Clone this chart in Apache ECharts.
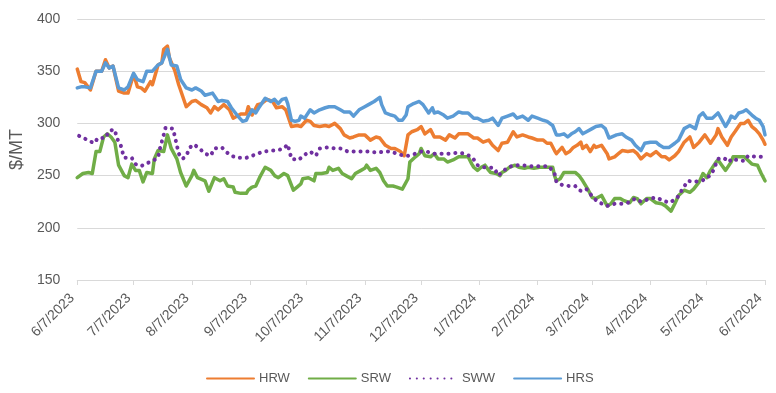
<!DOCTYPE html>
<html>
<head>
<meta charset="utf-8">
<script src="https://cdn.jsdelivr.net/npm/echarts@6/dist/echarts.min.js"></script>
<style>html,body{margin:0;padding:0;background:#fff}#c{width:776px;height:393px}</style>
</head>
<body>
<div id="c"></div>
<script>
// Dates are day offsets from 6/7/2023
const startLabel = '6/7/2023';
const tickLabels = ['6/7/2023','7/7/2023','8/7/2023','9/7/2023','10/7/2023','11/7/2023','12/7/2023','1/7/2024','2/7/2024','3/7/2024','4/7/2024','5/7/2024','6/7/2024'];
const seriesNames = ['HRW','SRW','SWW','HRS'];

const hrwDays = [0,2,4,7,10,13,15,17,19,22,25,27,30,32,34,36,39,40,43,45,46,48,49,52,54,58,61,63,66,69,71,73,75,78,81,83,87,90,91,93,96,98,101,104,106,109,111,114,117,119,122,124,126,129,132,134,137,140,142,145,147,150,153,154,156,159,161,164,167,169,172,174,176,178,181,183,184,185,188,190,193,196,198,201,203,205,208,211,213,216,219,221,224,226,229,232,234,237,240,242,245,248,250,252,254,255,258,260,262,264,266,268,269,271,273,275,276,279,282,283,286,288,290,293,296,298,300,303,305,308,311,313,315,318,320,323,326,328,331,334,337,340,341,343,346,348,350,353,355,357,359,361,363,365,366];
const hrwValues = [352,340,339,332,350,350,361,353,355,331,329,329,347,335,334,331,340,337,356,358,371,374,363,350,337,316,321,322,318,315,310,316,313,318,313,305,309,309,316,308,318,319,323,321,315,316,313,297,298,297,303,302,298,297,298,297,300,295,289,286,287,289,289,290,284,287,286,279,276,276,273,269,289,292,294,297,298,290,294,287,287,284,289,286,290,290,290,286,286,282,284,279,274,281,282,292,287,289,287,286,284,284,281,281,274,271,277,271,273,277,279,282,276,279,273,279,277,279,271,266,268,271,274,273,274,271,266,271,269,273,268,268,265,269,273,282,287,277,282,289,281,289,295,287,279,287,292,300,300,303,297,294,290,284,280];

const srwDays = [0,3,6,8,10,12,14,16,18,20,22,25,27,29,31,33,35,37,40,41,43,46,48,50,53,55,58,61,62,64,68,70,73,76,78,80,83,84,87,90,91,93,95,97,100,103,105,107,110,112,115,117,119,120,123,126,127,130,133,134,136,139,141,143,146,148,151,153,154,156,159,161,163,165,168,170,173,174,176,177,180,182,183,185,188,190,192,195,197,200,203,205,208,210,211,213,215,217,219,220,223,225,226,228,230,233,235,238,240,243,246,248,251,253,254,255,257,259,262,263,265,267,269,270,272,274,276,279,282,284,286,289,291,294,296,298,300,303,305,308,311,313,316,318,320,323,326,328,331,333,335,337,340,341,343,345,348,349,352,355,356,359,362,364,366];
const srwValues = [248,252,253,252,273,273,287,290,287,282,260,250,248,261,255,255,244,253,252,266,274,273,289,276,266,253,240,250,255,248,245,235,248,245,247,240,239,234,233,233,236,239,240,248,258,255,250,248,252,250,236,239,242,247,248,245,252,252,253,258,255,257,252,250,247,252,255,257,260,255,257,253,245,240,240,239,237,236,247,263,268,271,276,269,268,271,266,266,263,265,268,268,268,261,258,255,258,260,255,253,252,250,253,255,258,260,258,257,258,257,258,258,258,258,250,245,247,253,253,252,253,250,245,245,236,229,228,231,221,223,228,228,226,224,229,228,223,228,228,224,223,221,216,223,231,236,234,237,244,252,248,255,263,265,260,255,263,268,268,268,268,261,260,252,245];

const swwDays = [1,9,11,15,17,20,21,23,24,25,29,31,34,36,40,43,44,46,47,51,52,53,54,56,58,60,62,65,68,71,73,77,79,82,85,90,93,96,99,103,106,110,112,113,114,118,120,124,127,129,133,137,140,144,147,152,155,160,163,167,170,174,176,180,183,186,190,194,198,203,206,210,212,213,216,219,222,224,226,229,233,236,241,244,248,251,254,255,258,262,265,267,269,271,275,276,278,282,286,290,293,297,300,305,308,312,315,319,321,325,328,332,335,338,341,344,347,348,351,355,357,361,365,366];
const swwValues = [288,281,286,286,293,294,286,280,273,267,267,261,259,261,264,267,276,289,296,295,287,279,271,266,269,277,280,276,271,269,276,277,273,269,267,267,269,271,273,274,274,276,280,273,266,265,269,273,269,276,277,276,276,273,273,273,273,272,273,273,271,269,269,271,273,273,271,271,271,272,271,268,263,260,258,258,257,250,253,258,260,260,259,259,259,259,252,244,241,240,240,236,235,237,228,228,224,221,223,223,224,228,225,228,229,226,224,228,234,245,244,245,247,253,266,267,263,266,265,264,269,268,268,268];

const hrsDays = [0,2,4,7,10,13,15,17,19,22,25,27,30,32,35,37,40,43,45,48,50,53,55,58,61,63,66,68,72,75,77,80,82,85,88,90,91,93,95,97,100,103,105,107,109,111,112,114,116,118,119,121,124,126,129,132,134,137,140,142,145,147,150,153,155,158,161,162,164,167,169,171,173,175,176,179,182,184,187,189,190,192,195,197,200,203,205,208,211,213,216,219,221,224,226,229,232,234,237,240,242,245,248,250,253,255,257,259,261,263,265,267,269,271,274,276,279,281,283,284,287,290,292,295,297,300,302,305,308,310,312,315,318,320,323,326,327,329,331,333,335,338,341,342,345,347,348,350,352,354,356,359,361,363,365,366];
const hrsValues = [334,335,335,334,350,350,358,353,355,334,332,335,348,342,340,350,350,356,358,371,356,355,342,334,332,334,331,327,329,321,322,321,315,308,302,303,307,313,310,316,324,321,323,319,323,324,319,303,302,303,307,305,313,310,313,315,316,316,313,311,311,307,313,316,318,321,325,318,310,308,307,303,303,308,316,319,321,318,310,315,310,311,308,305,307,311,310,310,305,305,302,303,305,298,305,307,309,305,307,303,307,305,303,302,298,289,289,290,287,290,292,295,290,292,295,297,298,295,286,287,289,290,287,284,279,274,281,282,282,279,277,277,281,284,295,298,298,295,307,310,305,305,310,307,297,303,307,305,310,311,313,308,305,303,297,289];

const colors = ['#ED7D31','#70AD47','#7030A0','#5B9BD5'];

function dayOf(label) {
  const p = label.split('/').map(Number);
  const s = startLabel.split('/').map(Number);
  return Math.round((Date.UTC(p[2], p[0]-1, p[1]) - Date.UTC(s[2], s[0]-1, s[1])) / 86400000);
}
const tickDays = tickLabels.map(dayOf);
function pairs(d, v) { return d.map((x, i) => [x, v[i]]); }

const dataSets = [pairs(hrwDays, hrwValues), pairs(srwDays, srwValues), pairs(swwDays, swwValues), pairs(hrsDays, hrsValues)];
const font = 'Liberation Sans';

const series = seriesNames.map((name, i) => {
  const dotted = name === 'SWW';
  return {
    name: name,
    type: 'line',
    data: dataSets[i],
    symbol: 'none',
    smooth: false,
    z: 2 + i,
    lineStyle: dotted
      ? { color: colors[i], width: 4, type: [0.1, 6.8], cap: 'round' }
      : { color: colors[i], width: 3.5, join: 'round', cap: 'round' },
    itemStyle: { color: colors[i] },
    emphasis: { disabled: true },
    animation: false
  };
});

const chart = echarts.init(document.getElementById('c'), null, { renderer: 'canvas' });
chart.setOption({
  animation: false,
  backgroundColor: '#ffffff',
  grid: { left: 70, right: 11, top: 19, bottom: 113 },
  xAxis: {
    type: 'value',
    min: tickDays[0],
    max: tickDays[tickDays.length - 1],
    axisLine: { show: true, lineStyle: { color: '#d9d9d9', width: 1 } },
    axisTick: { show: true, customValues: tickDays, length: 5, lineStyle: { color: '#d9d9d9' } },
    splitLine: { show: false },
    axisLabel: {
      customValues: tickDays,
      rotate: 45,
      margin: 11,
      padding: [0, 7, 0, 0],
      color: '#595959',
      fontFamily: font,
      fontSize: 14,
      formatter: function (v) { const k = tickDays.indexOf(v); return k >= 0 ? tickLabels[k] : ''; }
    }
  },
  yAxis: {
    type: 'value',
    min: 150,
    max: 400,
    interval: 50,
    name: '$/MT',
    nameLocation: 'middle',
    nameRotate: 90,
    nameGap: 41,
    nameTextStyle: { color: '#595959', fontFamily: font, fontSize: 18 },
    axisLine: { show: false },
    axisTick: { show: false },
    splitLine: { show: true, lineStyle: { color: '#d9d9d9', width: 1 } },
    axisLabel: { color: '#595959', fontFamily: font, fontSize: 14, margin: 17 }
  },
  legend: {
    data: seriesNames,
    top: 367,
    left: 201,
    itemWidth: 47,
    itemHeight: 14,
    itemGap: 18,
    itemStyle: { opacity: 0 },
    textStyle: { color: '#595959', fontFamily: font, fontSize: 13 },
    selectedMode: false
  },
  series: series
});
</script>
</body>
</html>
